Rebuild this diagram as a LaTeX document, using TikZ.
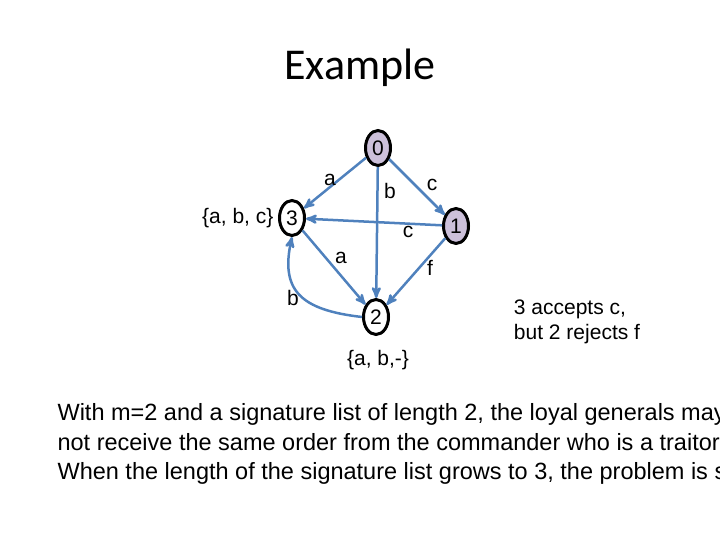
\documentclass[tikz,border=0pt]{standalone}
\usepackage{fontspec}
\setmainfont{Liberation Sans}
\newfontfamily\titlefont{Carlito}
\usetikzlibrary{arrows,shapes}
\definecolor{edgeblue}{RGB}{79,129,189}
\definecolor{lavender}{RGB}{204,192,218}
\tikzset{
   main node/.style={ellipse,draw=black,text=black,line width=3pt,minimum width=25pt,minimum height=35pt,inner sep=0pt,font=\fontsize{21}{21}\selectfont},
   traitor node/.style={main node,fill=lavender},
   label text/.style={text=black,font=\fontsize{21}{21}\selectfont}
}

\begin{document}
\begin{tikzpicture}[x=1pt,y=-1pt,->,>=stealth',line width=2.5pt,edgeblue]
\useasboundingbox (0,0) rectangle (720,540);
\node[text=black,font=\titlefont\fontsize{44}{44}\selectfont] (title) at (360,68) {Example};

% generals
\node[traitor node] (g0) at (378,148) {0};
\node[main node] (g3) at (292,218) {3};
\node[traitor node] (g1) at (456,226) {1};
\node[main node] (g2) at (376,317) {2};

\path
  (g0) edge (g3)
  (g0) edge (g2)
  (g0) edge (g1)
  (g1) edge (g3)
  (g3) edge (g2)
  (g1) edge (g2)
;
\draw (g2.west) .. controls (300,310) and (280,290) .. (g3.south);

\begin{scope}[label text]
\node (la) at (330,180) {a};
\node (lb) at (390,191) {b};
\node (lc) at (432,185) {c};
\node (lc2) at (408,232) {c};
\node (la2) at (341,258) {a};
\node (lf) at (430,268) {f};
\node (lb2) at (293,298) {b};
\node[anchor=east] (set3) at (278,218) {\{a, b, c\}};
\node (set2) at (378,360) {\{a, b,-\}};
\node[align=left] (note) at (577,322) {3 accepts c,\\[4pt]but 2 rejects f};
\end{scope}

\node[text=black,anchor=west,align=left,font=\fontsize{23.5}{29.5}\selectfont] (body) at (53,444)
  {With m=2 and a signature list of length 2, the loyal generals may\\
   not receive the same order from the commander who is a traitor.\\
   When the length of the signature list grows to 3, the problem is solved.};
\end{tikzpicture}
\end{document}
